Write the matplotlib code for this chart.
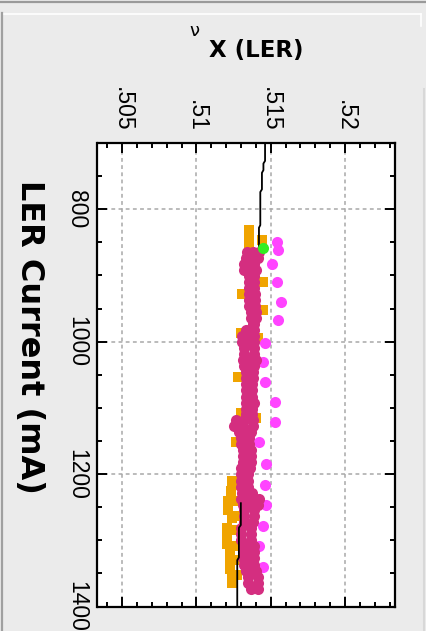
import matplotlib
matplotlib.use("Agg")
import matplotlib.pyplot as plt
from matplotlib.lines import Line2D
from matplotlib.ticker import MultipleLocator

# ---------------- data ----------------
nu_ticks = [0.505, 0.51, 0.515, 0.52]
nu_tick_labels = [".505", ".51", ".515", ".52"]
cur_ticks = [800, 1000, 1200, 1400]
cur_tick_labels = ["800", "1000", "1200", "1400"]

# dark pink series (rows of current, left / right edge of the band)
pink_cur = [865, 874, 883, 892, 901, 910, 919, 928, 937, 946, 955, 965, 974, 983,
            992, 1001, 1010, 1019, 1028, 1037, 1046, 1055, 1064, 1073, 1083, 1092,
            1101, 1110, 1119, 1128, 1137, 1146, 1155, 1164, 1173, 1182, 1191, 1200,
            1210, 1219, 1228, 1237, 1246, 1255, 1264, 1273, 1282, 1291, 1300, 1309,
            1318, 1327, 1337, 1346, 1355, 1364, 1373]
pink_nu_a = [.51338, .51331, .51318, .51318, .51351, .51351, .51351, .51351, .51351,
             .51351, .51365, .51365, .51378, .51331, .51304, .51304, .51318, .51318,
             .51311, .51318, .51331, .51331, .51331, .51331, .51331, .51331, .51331,
             .51331, .51264, .51250, .51284, .51297, .51297, .51311, .51311, .51311,
             .51297, .51297, .51297, .51297, .51304, .51297, .51311, .51318, .51318,
             .51318, .51297, .51297, .51297, .51311, .51311, .51311, .51318, .51331,
             .51345, .51345, .51365]
pink_nu_b = [.51419, .51412, .51385, .51399, .51385, .51385, .51385, .51392, .51392,
             .51392, .51399, .51399, .51385, .51385, .51385, .51385, .51385, .51385,
             .51399, .51385, .51378, .51378, .51372, .51372, .51372, .51385, .51372,
             .51372, .51378, .51378, .51365, .51351, .51351, .51365, .51365, .51365,
             .51358, .51345, .51345, .51345, .51372, .51419, .51412, .51385, .51385,
             .51378, .51365, .51365, .51365, .51385, .51385, .51385, .51385, .51399,
             .51412, .51412, .51412]
pink_mid_cur = [865, 874, 892, 992, 1001, 1028, 1119, 1128, 1137, 1237, 1246,
                1309, 1318, 1327, 1337]
pink_mid_nu = [.51378, .51372, .51358, .51345, .51345, .51355, .51318, .51311,
               .51325, .51358, .51358, .51348, .51348, .51348, .51350]

# orange series
orange_cur = [832, 844, 856, 847, 910, 928, 952, 987, 995, 1054, 1108, 1116, 1152,
              1210, 1214, 1225, 1240, 1255, 1267, 1282, 1294, 1306, 1318, 1330, 1343,
              1355, 1365, 1217, 1240, 1263, 1285, 1308, 1330, 1353]
orange_nu = [.51351, .51351, .51352, .51439, .51446, .51304, .51446, .51297, .51412,
             .51277, .51297, .51399, .51264, .51243, .51345, .51230, .51210, .51216,
             .51237, .51203, .51203, .51203, .51223, .51223, .51223, .51237, .51237,
             .51270, .51270, .51270, .51270, .51270, .51270, .51270]

# light magenta series
mag_cur = [850, 862, 883, 910, 940, 968, 1002, 1031, 1061, 1091, 1122, 1152, 1185,
           1216, 1246, 1278, 1309, 1340]
mag_nu = [.5154, .5155, .5151, .5154, .5157, .5155, .5146, .5145, .5146, .5153,
          .5153, .5142, .5147, .5146, .5147, .5145, .5142, .5145]

# green point
green_cur = [859]
green_nu = [.51446]

# black model line (two visible pieces)
line1_cur = [700, 727, 731, 741, 745, 770, 774, 824, 828, 858]
line1_nu = [.51462, .51462, .51451, .51451, .51441, .51441, .51430, .51430, .51421, .51421]
line2_cur = [1244, 1277, 1281, 1326, 1330, 1400]
line2_nu = [.51299, .51299, .51286, .51286, .51275, .51275]

# ---------------- figure ----------------
W, H = 427, 631
BG = "#ebebeb"
fig = plt.figure(figsize=(W / 100, H / 100), dpi=100, facecolor=BG)

def fx(px):
    return px / W

def fy(py):
    return 1 - py / H

ax_l, ax_r, ax_t, ax_b = 97.5, 395, 143, 606.5
ax = fig.add_axes([fx(ax_l), fy(ax_b), (ax_r - ax_l) / W, (ax_b - ax_t) / H])
ax.set_facecolor("white")
ax.set_xlim(0.50335, 0.52336)
ax.set_ylim(1400, 700)

ax.set_axisbelow(True)
for v in nu_ticks:
    ax.axvline(v, color="#a8a8a8", lw=1.1, ls=(0, (2.5, 2.2)), zorder=0.5)
for v in [800, 1000, 1200]:
    ax.axhline(v, color="#a8a8a8", lw=1.1, ls=(0, (2.5, 2.2)), zorder=0.5)

S = 64
ax.scatter(orange_nu, orange_cur, s=56, marker="s", color="#f0a400", linewidths=0, zorder=2)
ax.scatter(mag_nu, mag_cur, s=S, marker="o", color="#ff44ff", linewidths=0, zorder=2.5)
ax.scatter(pink_nu_a, pink_cur, s=S, marker="o", color="#d42e80", linewidths=0, zorder=3)
ax.scatter(pink_nu_b, pink_cur, s=S, marker="o", color="#d42e80", linewidths=0, zorder=3)
ax.scatter(pink_mid_nu, pink_mid_cur, s=S, marker="o", color="#d42e80", linewidths=0, zorder=3)
ax.plot(line1_nu, line1_cur, color="black", lw=1.3, zorder=4)
ax.plot(line2_nu, line2_cur, color="black", lw=1.3, zorder=4)
ax.scatter(green_nu, green_cur, s=S, marker="o", color="#33ee22", linewidths=0, zorder=5)

for sp in ax.spines.values():
    sp.set_linewidth(1.6)
    sp.set_color("black")

ax.xaxis.set_minor_locator(MultipleLocator(0.001))
ax.yaxis.set_minor_locator(MultipleLocator(50))
ax.tick_params(which="both", direction="in", top=True, bottom=True, left=True, right=True,
               labeltop=True, labelbottom=False, labelleft=True, labelright=False,
               width=1.4, color="black")
ax.tick_params(which="major", length=7.2)
ax.tick_params(which="minor", length=3.6)
ax.tick_params(axis="x", which="major", pad=8)
ax.tick_params(axis="y", which="major", pad=7)

tick_font = dict(family=["Liberation Sans", "DejaVu Sans"], size=16.5)
ax.set_xticks(nu_ticks)
ax.set_xticklabels(nu_tick_labels, rotation=-90, ha="center", va="bottom", **tick_font)
ax.set_yticks(cur_ticks)
ax.set_yticklabels(cur_tick_labels, rotation=-90, ha="right", va="center", **tick_font)

# axis label and title
fig.text(fx(29), fy(337), "LER Current (mA)", rotation=-90, ha="center", va="center",
         fontsize=23, fontweight="bold", family="DejaVu Sans")
fig.text(fx(194), fy(31), "ν", ha="center", va="center", fontsize=13, family="DejaVu Sans")
fig.text(fx(209), fy(50), "X (LER)", ha="left", va="center", fontsize=16.5,
         fontweight="bold", family="DejaVu Sans")

# window frame decorations
fig.add_artist(Line2D([0, 1], [fy(1.5), fy(1.5)], color="#9a9a9a", lw=1.6))
fig.add_artist(Line2D([fx(3), fx(421)], [fy(13.5), fy(13.5)], color="white", lw=1.2))
fig.add_artist(Line2D([fx(421), fx(421)], [fy(13.5), fy(26)], color="white", lw=1.2))
fig.add_artist(Line2D([fx(1.8), fx(1.8)], [fy(13), 0], color="#a0a0a0", lw=1.6))
fig.add_artist(Line2D([fx(424.5), fx(424.5)], [fy(89), 0], color="#d8d8d8", lw=1.5))

fig.savefig("out.png", dpi=100, facecolor=BG)
